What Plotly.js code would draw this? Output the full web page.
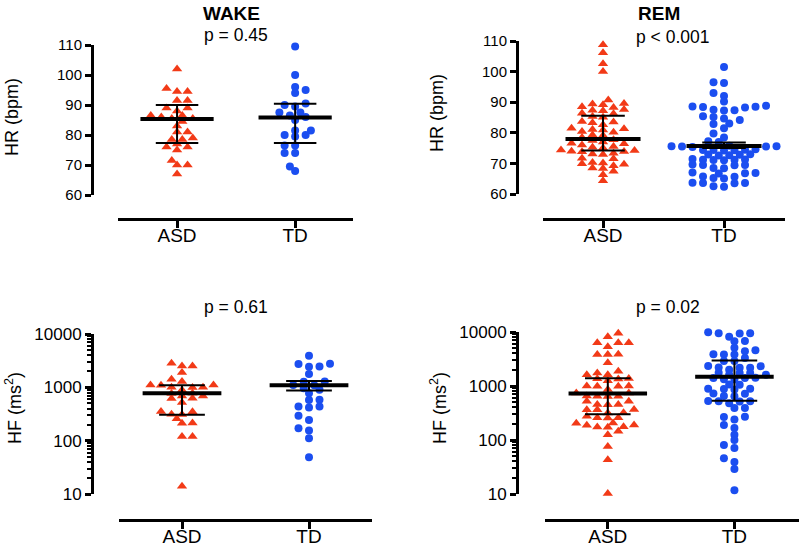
<!DOCTYPE html>
<html>
<head>
<meta charset="utf-8">
<script src="https://cdn.plot.ly/plotly-3.0.1.min.js"></script>
<style>
  html, body { margin: 0; padding: 0; background: #fff; }
  #chart { width: 800px; height: 546px; }
</style>
</head>
<body>
<div id="chart"></div>
<script>
// groups on the x axis
var groups = ['ASD', 'TD'];

// heart rate (bpm), wake
var hrWakeASD = [102, 95.5, 94.5, 94.5, 91.5, 91.5, 89, 89, 88, 86.5, 86.5, 86, 85.5, 85.5, 84.5, 83, 81, 81,
  79, 78.5, 78.5, 77, 76, 76, 75, 71.5, 70, 70, 67];
var hrWakeTD = [109.5, 100, 96, 95, 94, 90.5, 90, 89.5, 87.5, 87.5, 86.5, 86, 85, 81.5, 81.5, 80, 80, 79.5,
  76.5, 76.5, 74, 74, 69.5, 68];

// heart rate (bpm), REM
var hrRemASD = [108.8, 106.2, 102.6, 100, 90.7, 89.6, 89.4, 89.2, 88.5, 88.3, 87.6, 87.4, 87.2, 86.4, 86.2,
  85.3, 85.1, 83.7, 83.5, 83.3, 82.6, 81.5, 81.3, 81.1, 80.9, 80.4, 80.2, 79.3, 79.1, 78.5, 77.7, 77.5, 77,
  76.6, 76.4, 76, 75.5, 75.3, 75, 74.4, 74.2, 74.0, 73.9, 73.8, 73.3, 73.1, 72.9, 71.7, 71.5, 70.3, 70.1,
  69.9, 69.7, 69.2, 68.5, 68.3, 67.4, 66.3, 64.3];
var hrRemTD = [101.5, 96.5, 96.3, 93, 92, 90.2, 88.8, 88.6, 88.5, 88.4, 88.3, 87.5, 87.4, 87.3, 85.4, 85.2,
  84.7, 84.2, 83, 82.9, 81.5, 79.8, 78.5, 77.2, 77.0,
  75.8, 75.7, 75.6, 75.6, 75.5, 75.5, 75.4, 74.6, 74.5, 74.4, 74.4, 74.3, 74.2,
  73, 72.9, 72.8, 72.7, 72.6, 71.4, 71.3, 71.2, 71.2, 71.1, 71, 69.6, 69.5, 69.5, 69.4, 68.5, 68.4,
  67, 66.9, 66.8, 66.7, 65.7, 65.6, 65.2, 65.1, 63.7, 63.6, 63.6, 63.5, 62.5, 62.4];

// HF power (ms^2), wake
var hfWakeASD = [2830, 2520, 2520, 1890, 1415, 1280, 1110, 1110, 1090, 1000, 1000, 990, 896, 776, 770, 690,
  690, 625, 620, 519, 352, 350, 314, 310, 257, 214, 212, 120, 120, 13.9];
var hfWakeTD = [3930, 2760, 2750, 2450, 2440, 1780, 1280, 1270, 1110, 1100, 961, 900, 776, 582, 580, 437,
  435, 418, 292, 245, 171, 155, 111, 49];

// HF power (ms^2), REM
var hfRemASD = [9440, 8200, 6330, 6300, 6350, 5330, 3850, 3870, 3830, 2700, 1880, 1750, 1620, 1610, 1360,
  1370, 1350, 1250, 990, 995, 985, 1000, 860, 742, 745, 645, 650, 640, 648, 520, 522, 452, 455, 450, 365,
  362, 368, 316, 318, 275, 257, 255, 258, 205, 207, 190, 188, 174, 176, 172, 145, 125, 76, 43, 10.2];
var hfRemTD = [9900, 9440, 9400, 9450, 8200, 6800, 6750, 5110, 4600, 4400, 3850, 3870, 3830, 3300, 2890,
  2900, 2340, 2330, 2180, 2170, 2190, 2000, 1750, 1760, 1740, 1620, 1610, 1410, 1400, 1420, 1320, 1330,
  1060, 1070, 885, 880, 890, 860, 724, 720, 645, 650, 520, 522, 518, 525, 480, 390, 392, 268, 270, 240,
  190, 166, 125, 100, 81, 71, 46, 39, 29, 11.7];

// median line and error bar ends [ASD, TD]
var hrWakeMid = [85.3, 85.8], hrWakeLo = [77.3, 77.3], hrWakeHi = [90, 90.4];
var hrRemMid = [78, 75.7], hrRemLo = [74.2, 75.0], hrRemHi = [85.6, 76.8];
var hfWakeMid = [776, 1100], hfWakeLo = [305, 870], hfWakeHi = [1100, 1320];
var hfRemMid = [723, 1480], hfRemLo = [299, 535], hfRemHi = [1390, 2960];

var pLabels = ['p = 0.45', 'p < 0.001', 'p = 0.61', 'p = 0.02'];
var logTicks = [10, 100, 1000, 10000];
var logTickText = ['10', '100', '1000', '10000'];

var W = 800, H = 546;
var RED = '#f23a17', BLUE = '#1b4ef0';
var FONT = 'Liberation Sans, Arial, Helvetica, sans-serif';

// axis geometry in pixels
function px(x) { return x / W; }
function py(y) { return 1 - y / H; }

var panels = [
  { xa: 'x', ya: 'y', xd: [118, 353], xr: [0.5, 2.49], xpos: 219, yd: [195, 45], yr: [60, 110], ypos: 92,
    log: false, a: hrWakeASD, b: hrWakeTD, mid: hrWakeMid, lo: hrWakeLo, hi: hrWakeHi },
  { xa: 'x2', ya: 'y2', xd: [543, 785], xr: [0.504, 2.504], xpos: 219, yd: [194, 41], yr: [60, 110], ypos: 517,
    log: false, a: hrRemASD, b: hrRemTD, mid: hrRemMid, lo: hrRemLo, hi: hrRemHi },
  { xa: 'x3', ya: 'y3', xd: [119, 372], xr: [0.504, 2.496], xpos: 520, yd: [494, 334], yr: [1, 4], ypos: 92,
    log: true, a: hfWakeASD, b: hfWakeTD, mid: hfWakeMid, lo: hfWakeLo, hi: hfWakeHi },
  { xa: 'x4', ya: 'y4', xd: [545, 799], xr: [0.504, 2.51], xpos: 520, yd: [494, 332], yr: [1, 4], ypos: 517,
    log: true, a: hfRemASD, b: hfRemTD, mid: hfRemMid, lo: hfRemLo, hi: hfRemHi }
];

// spread points sideways so they do not overlap (beeswarm), offsets in px.
// rows may sit closer vertically than horizontally, like the original plot
function swarm(ys, sx, sy) {
  var idx = ys.map(function (y, i) { return i; }).sort(function (p, q) { return ys[p] - ys[q]; });
  var placed = [], off = new Array(ys.length);
  idx.forEach(function (i, n) {
    for (var k = 0; k < 80; k++) {
      var c = k * sx / 2;
      var cands = k === 0 ? [0] : (n % 2 ? [-c, c] : [c, -c]);
      var hit = null;
      for (var j = 0; j < cands.length; j++) {
        var ok = placed.every(function (p) {
          var dx = (p.x - cands[j]) / sx, dy = (p.y - ys[i]) / sy;
          return dx * dx + dy * dy >= 0.999;
        });
        if (ok) { hit = cands[j]; break; }
      }
      if (hit !== null) { off[i] = hit; placed.push({ x: hit, y: ys[i] }); break; }
    }
  });
  return off;
}

var traces = [], layout = {
  width: W, height: H, margin: { l: 0, r: 0, t: 0, b: 0 },
  paper_bgcolor: '#fff', plot_bgcolor: 'rgba(0,0,0,0)', showlegend: false,
  font: { family: FONT, color: '#000' }, annotations: []
};

var minorLog = [];
[10, 100, 1000].forEach(function (d) { for (var m = 2; m <= 9; m++) minorLog.push(d * m); });

panels.forEach(function (p, pi) {
  var sfx = pi === 0 ? '' : String(pi + 1);
  var yPix = p.yd[0] - p.yd[1];
  var xPerPx = (p.xr[1] - p.xr[0]) / (p.xd[1] - p.xd[0]);
  function toPx(v) {
    var t = p.log ? (Math.log10(v) - p.yr[0]) / (p.yr[1] - p.yr[0]) : (v - p.yr[0]) / (p.yr[1] - p.yr[0]);
    return t * yPix;
  }
  [p.a, p.b].forEach(function (vals, g) {
    var off = swarm(vals.map(toPx), 10.5, 5);
    traces.push({
      type: 'scatter', mode: 'markers', xaxis: p.xa, yaxis: p.ya, cliponaxis: false, hoverinfo: 'y',
      x: vals.map(function (v, i) { return g + 1 + off[i] * xPerPx; }), y: vals,
      marker: g === 0 ? { symbol: 'triangle-up', size: 9, color: RED } : { symbol: 'circle', size: 8, color: BLUE }
    });
  });
  // median, whisker and caps
  [0, 1].forEach(function (g) {
    var c = g + 1, mh = 0.31, ch = 0.18;
    traces.push({ type: 'scatter', mode: 'lines', xaxis: p.xa, yaxis: p.ya, hoverinfo: 'skip', cliponaxis: false,
      x: [c, c, null, c - ch, c + ch, null, c - ch, c + ch],
      y: [p.lo[g], p.hi[g], null, p.lo[g], p.lo[g], null, p.hi[g], p.hi[g]], line: { color: '#000', width: 2 } });
    traces.push({ type: 'scatter', mode: 'lines', xaxis: p.xa, yaxis: p.ya, hoverinfo: 'skip', cliponaxis: false,
      x: [c - mh, c + mh], y: [p.mid[g], p.mid[g]], line: { color: '#000', width: 4 } });
  });

  layout['xaxis' + sfx] = {
    domain: [px(p.xd[0]), px(p.xd[1])], range: p.xr, anchor: 'free', position: py(p.xpos),
    showline: true, linewidth: 3, linecolor: '#000', ticks: 'outside', ticklen: 7, tickwidth: 3,
    tickcolor: '#000', tickvals: [1, 2], ticktext: groups, tickfont: { size: 19, family: FONT },
    ticklabelstandoff: -9, showgrid: false, zeroline: false, fixedrange: true
  };
  var ya = {
    domain: [py(p.yd[0]), py(p.yd[1])], anchor: 'free', position: px(p.ypos),
    showline: true, linewidth: 3, linecolor: '#000', ticks: 'outside', ticklen: 6, tickwidth: 3,
    tickcolor: '#000', tickfont: { size: p.log ? 17 : 15, family: FONT }, showgrid: false, zeroline: false,
    fixedrange: true
  };
  if (p.log) {
    ya.type = 'log'; ya.range = p.yr; ya.tickvals = logTicks; ya.ticktext = logTickText;
    ya.minor = { tickvals: minorLog, ticks: 'outside', ticklen: 4, tickwidth: 2, tickcolor: '#000', showgrid: false };
  } else {
    ya.range = p.yr; ya.dtick = 10; ya.tick0 = 60;
  }
  layout['yaxis' + sfx] = ya;
});

function note(text, x, y, size, extra) {
  var a = { text: text, x: px(x), y: py(y), xref: 'paper', yref: 'paper', showarrow: false,
    xanchor: 'center', yanchor: 'middle', font: { size: size, family: FONT, color: '#000' } };
  for (var k in extra) a[k] = extra[k];
  layout.annotations.push(a);
}
note('<b>WAKE</b>', 232, 13, 19);
note('<b>REM</b>', 659, 13, 19);
note(pLabels[0], 236, 35, 17.5);
note(pLabels[1], 672, 37, 17.5);
note(pLabels[2], 236, 307, 17.5);
note(pLabels[3], 668, 307, 17.5);
note('HR (bpm)', 12, 117, 18, { textangle: -90 });
note('HR (bpm)', 437, 113, 18, { textangle: -90 });
note('HF (ms<sup>2</sup>)', 13, 408, 18, { textangle: -90 });
note('HF (ms<sup>2</sup>)', 438, 408, 18, { textangle: -90 });

Plotly.newPlot('chart', traces, layout, { displayModeBar: false, staticPlot: true });
</script>
</body>
</html>
